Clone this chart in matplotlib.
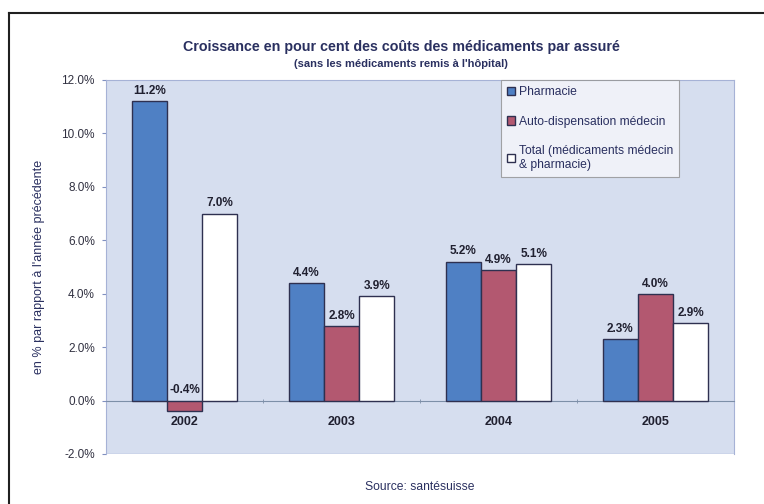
import numpy as np
import matplotlib.pyplot as plt
from matplotlib.lines import Line2D

plt.rcParams['font.family'] = ['Liberation Sans', 'DejaVu Sans']

# Data
years = ['2002', '2003', '2004', '2005']
pharmacie = [11.2, 4.4, 5.2, 2.3]
auto_disp = [-0.4, 2.8, 4.9, 4.0]
total = [7.0, 3.9, 5.1, 2.9]
series_names = ['Pharmacie', 'Auto-dispensation médecin',
                'Total (médicaments médecin\n& pharmacie)']
yticks = [-2, 0, 2, 4, 6, 8, 10, 12]

navy = '#2a3060'
colors = ['#4f80c4', '#b35870', '#ffffff']
edge = '#2e3050'

fig = plt.figure(figsize=(7.64, 5.04), dpi=100)
ax = fig.add_axes([106 / 764, 1 - 454 / 504, 628 / 764, 374 / 504])
ax.set_facecolor('#d6deef')

x = np.arange(len(years))
w = 0.225
for i, (vals, c, name) in enumerate(zip([pharmacie, auto_disp, total], colors, series_names)):
    pos = x + (i - 1) * w
    ax.bar(pos, vals, width=w, color=c, edgecolor=edge, linewidth=1.0,
           label=name, zorder=3)
    for px, v in zip(pos, vals):
        ax.annotate(f'{v:.1f}%', (px, max(v, 0)), xytext=(0, 3),
                    textcoords='offset points', ha='center', va='bottom',
                    fontsize=8.5, fontweight='bold', color='#202030')

ax.set_xlim(-0.5, len(years) - 0.5)
ax.set_ylim(-2, 12)
ax.set_yticks(yticks)
ax.set_yticklabels([f'{t:.1f}%' for t in yticks], fontsize=8.5, color='#303040')
ax.tick_params(axis='y', length=3, color='#8090c0', pad=5)

# category axis at zero
ax.spines['bottom'].set_position(('data', 0))
ax.spines['bottom'].set_color('#7d8fa8')
ax.set_xticks(x)
ax.set_xticklabels(years, fontsize=9, fontweight='bold', color='#202030')
ax.tick_params(axis='x', length=0, pad=11)
ax.set_xticks(np.arange(0.5, len(years) - 0.5, 1), minor=True)
ax.tick_params(axis='x', which='minor', length=3, direction='inout', color='#7d8fa8')
for s in ['left', 'right', 'top']:
    ax.spines[s].set_color('#a6b2d6')
ax.axhline(-2, color='#a6b2d6', lw=1)

ax.set_ylabel("en % par rapport à l'année précédente", fontsize=9, color=navy, labelpad=12)

leg = ax.legend(loc='upper right', bbox_to_anchor=(573 / 628, 1.0), fontsize=8.7,
                frameon=True, fancybox=False, labelspacing=1.45, handlelength=0.7,
                handleheight=0.7, handletextpad=0.3, borderpad=0.5, borderaxespad=0)
leg.get_frame().set_edgecolor('#909090')
leg.get_frame().set_facecolor('#f6f7fb')
leg.get_frame().set_linewidth(0.8)
for t in leg.get_texts():
    t.set_color(navy)

fig.text(0.525, 1 - 47 / 504, 'Croissance en pour cent des coûts des médicaments par assuré',
         ha='center', va='center', fontsize=10.3, fontweight='bold', color=navy)
fig.text(0.525, 1 - 64 / 504, "(sans les médicaments remis à l'hôpital)",
         ha='center', va='center', fontsize=8, fontweight='bold', color=navy)
fig.text(0.55, 1 - 487 / 504, 'Source: santésuisse', ha='center', va='center',
         fontsize=8.7, color=navy)

# outer frame
fig.add_artist(Line2D([9 / 764, 9 / 764], [0, 1 - 13 / 504], transform=fig.transFigure,
                      color='#202020', lw=1.5))
fig.add_artist(Line2D([9 / 764, 1], [1 - 13 / 504, 1 - 13 / 504], transform=fig.transFigure,
                      color='#202020', lw=1.5))

fig.savefig('out.png', dpi=100)
